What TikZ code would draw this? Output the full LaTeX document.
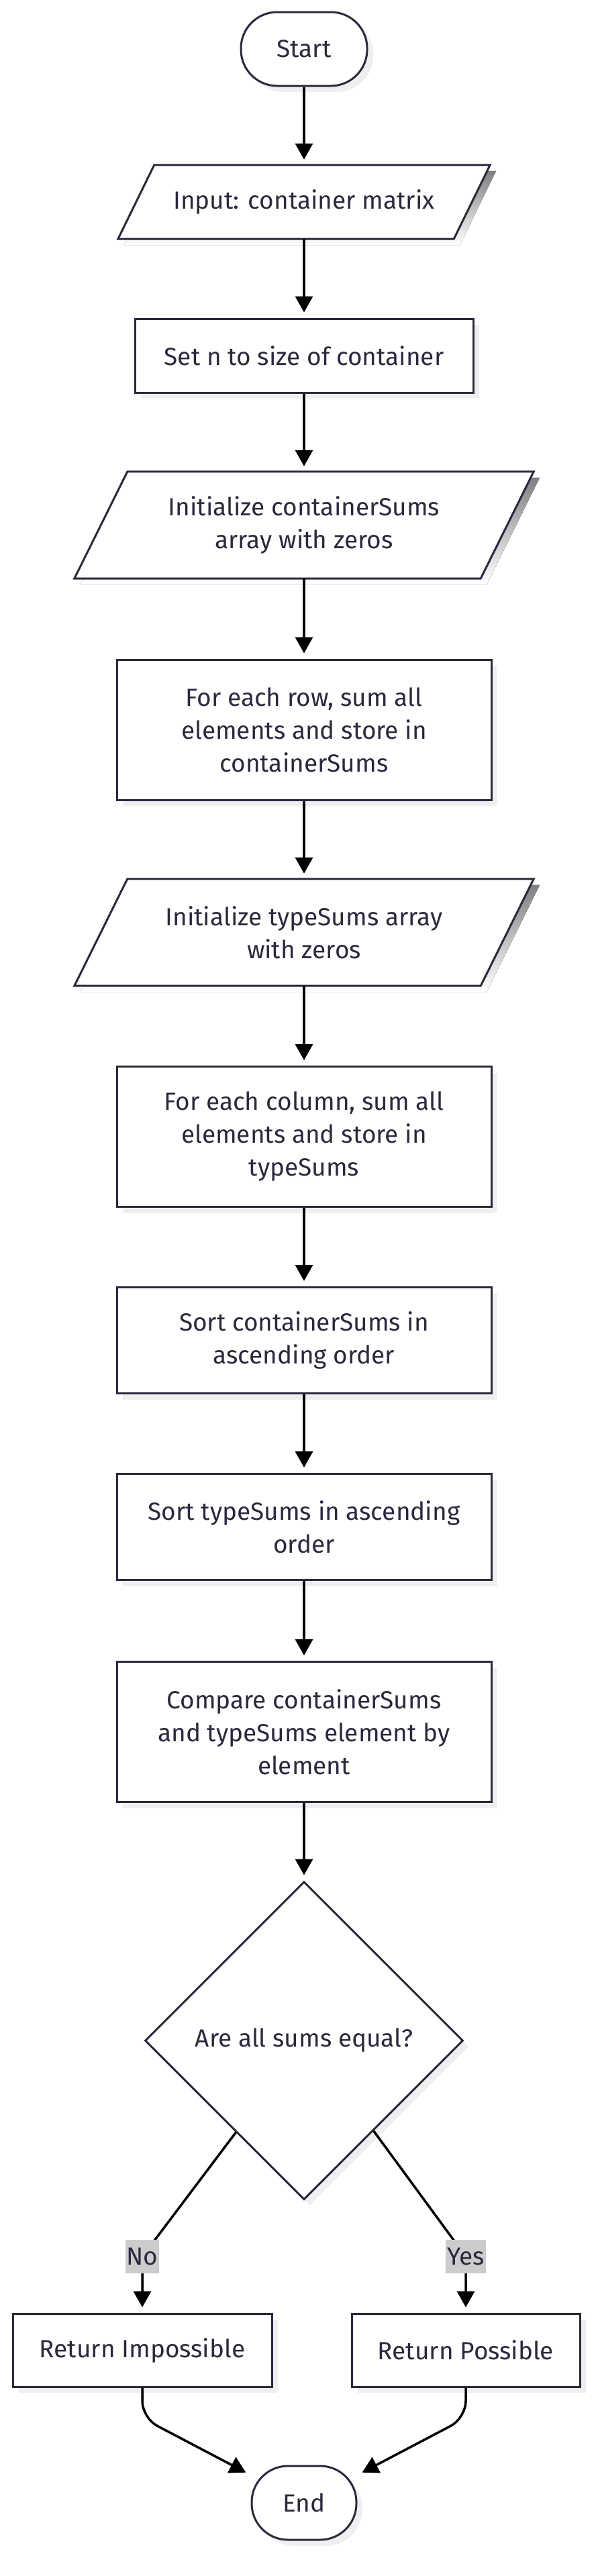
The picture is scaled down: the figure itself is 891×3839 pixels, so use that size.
\documentclass[tikz,border=0pt]{standalone}
\usepackage{fontspec}
\setmainfont{Fira Sans}
\usetikzlibrary{arrows.meta,shapes.geometric,calc,shadows}
\definecolor{ink}{HTML}{2A2A3E}
\definecolor{shade}{HTML}{EFEFEF}
\definecolor{lblbg}{HTML}{CCCCCC}
\pgfdeclarelayer{bg}
\pgfdeclarelayer{paper}
\pgfsetlayers{paper,bg,main}
\newcommand\paraline[2]{%
  \begin{pgfonlayer}{bg}
  \fill[shade] ($(#1.north west)+(#2+9,9)$) -- ($(#1.north east)+(#2+9,9)$) -- ($(#1.south east)+(-#2+9,9)$) -- ($(#1.south west)+(-#2+9,9)$) -- cycle;
  \draw[ink, line width=3pt, fill=white, line join=miter] ($(#1.north west)+(#2,0)$) -- ($(#1.north east)+(#2,0)$) -- ($(#1.south east)+(-#2,0)$) -- ($(#1.south west)+(-#2,0)$) -- cycle;
  \end{pgfonlayer}}
\begin{document}
\begin{tikzpicture}[x=1pt,y=-1pt,
  txt/.style={text=ink, font=\fontsize{37}{49}\selectfont, align=center, inner sep=0pt},
  shad/.style={drop shadow={shadow xshift=9pt, shadow yshift=-9pt, fill=shade, opacity=1}},
  base/.style={txt, draw=ink, line width=3pt, fill=white, shad},
  procbox/.style={base, rectangle, minimum width=#1},
  termbox/.style={base, rectangle, rounded corners=54pt, minimum width=#1, minimum height=110pt},
  paratext/.style={txt, rectangle, minimum width=#1},
  decbox/.style={base, diamond, minimum width=474pt, minimum height=474pt},
  flow/.style={draw=black, line width=3.5pt, -{Triangle[length=24pt,width=26pt]}, shorten >=8pt},
  elabel/.style={txt, fill=lblbg, minimum height=50pt, inner xsep=2pt},
]
\begin{pgfonlayer}{paper}
\fill[white] (0,0) rectangle (891,3839);
\end{pgfonlayer}
\useasboundingbox (0,0) rectangle (891,3839);

\node[termbox=188pt] (s) at (453,73) {Start};
\node[paratext=500pt, minimum height=110pt] (in) at (453,301) {Input: container matrix};
\paraline{in}{27}
\node[procbox=504pt, minimum height=110pt] (setn) at (453,530) {Set n to size of container};
\node[paratext=605pt, minimum height=159pt] (ics) at (453,782.5) {Initialize containerSums\\array with zeros};
\paraline{ics}{39.5}
\node[procbox=558pt, minimum height=209pt] (row) at (453,1087.5) {For each row, sum all\\elements and store in\\containerSums};
\node[paratext=605pt, minimum height=159pt] (its) at (453,1389.5) {Initialize typeSums array\\with zeros};
\paraline{its}{39.5}
\node[procbox=558pt, minimum height=209pt] (col) at (453,1694) {For each column, sum all\\elements and store in\\typeSums};
\node[procbox=558pt, minimum height=158pt] (sc) at (453,1997.5) {Sort containerSums in\\ascending order};
\node[procbox=558pt, minimum height=158pt] (st) at (453,2275.5) {Sort typeSums in ascending\\order};
\node[procbox=558pt, minimum height=209pt] (cmp) at (453,2581) {Compare containerSums\\and typeSums element by\\element};
\node[decbox] (d) at (453,3041) {Are all sums equal?};
\node[procbox=386pt, minimum height=109pt] (ri) at (212,3502.5) {Return Impossible};
\node[procbox=340pt, minimum height=109pt] (rp) at (694,3502.5) {Return Possible};
\node[termbox=156pt] (e) at (453,3730) {End};

\draw[flow] (s) -- (in);
\draw[flow] (in) -- (setn);
\draw[flow] (setn) -- (ics);
\draw[flow] (ics) -- (row);
\draw[flow] (row) -- (its);
\draw[flow] (its) -- (col);
\draw[flow] (col) -- (sc);
\draw[flow] (sc) -- (st);
\draw[flow] (st) -- (cmp);
\draw[flow] (cmp) -- (d);

\coordinate (dl) at ($(d.west)!0.574!(d.south)$);
\coordinate (dr) at ($(d.south)!0.435!(d.east)$);
\coordinate (nopt) at (212,3363);
\coordinate (yespt) at (694,3363);
\draw[flow] (dl) -- (nopt) -- (ri);
\draw[flow] (dr) -- (yespt) -- (rp);
\node[elabel] (no) at (nopt) {No};
\node[elabel] (yes) at (yespt) {Yes};

\draw[flow, rounded corners=25pt] (ri.south) -- ++(0,45) -- (e);
\draw[flow, rounded corners=25pt] (rp.south) -- ++(0,45) -- (e);
\end{tikzpicture}
\end{document}
